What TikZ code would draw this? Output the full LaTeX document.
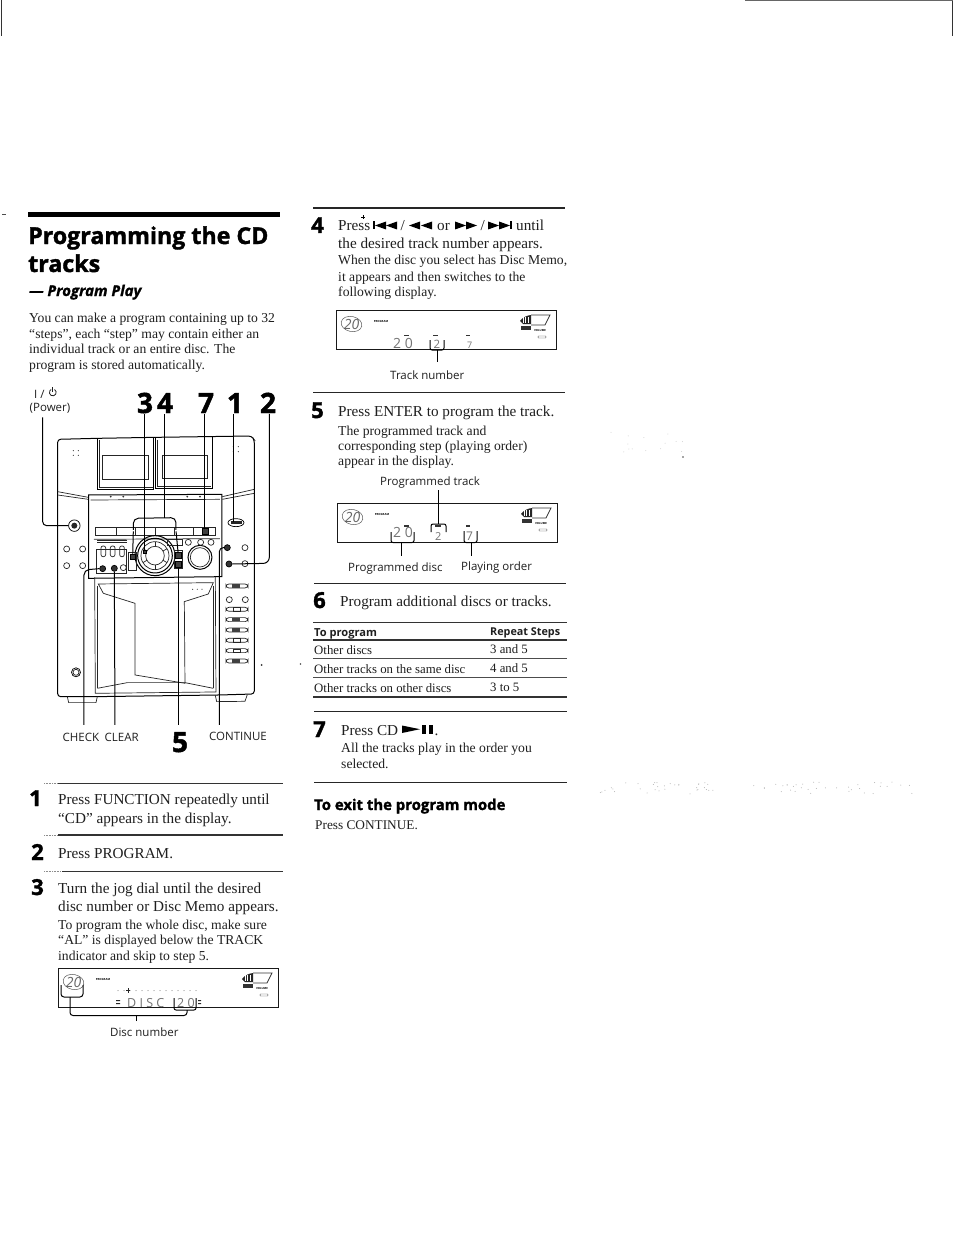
\documentclass[tikz,border=0pt]{standalone}
\usepackage{fontspec}
\usetikzlibrary{shapes.geometric}
\setmainfont{Liberation Serif}
\setsansfont{Open Sans}
\newfontfamily\heavyf[BoldFeatures={FakeBold=1.6},ItalicFeatures={},BoldItalicFeatures={FakeBold=1.2}]{Open Sans}
\newcommand{\fsz}[1]{\fontsize{#1}{#1}\selectfont}
\tikzset{
  txt/.style={inner sep=0pt,anchor=base west,text=black!88},
  big/.style={txt,font=\fsz{15.2}},
  small/.style={txt,font=\fsz{13.65}},
  tab/.style={txt,font=\fsz{12.8}},
  lab/.style={txt,font=\sffamily\fsz{11.5}},
  tabh/.style={txt,font=\sffamily\bfseries\fsz{11.1}},
  num/.style={txt,text=black,font=\heavyf\bfseries\fsz{22}},
  bignum/.style={txt,text=black,anchor=base,font=\heavyf\bfseries\fsz{28}},
  rulethick/.style={line width=1.8pt,black!85},
  rulethin/.style={line width=1.1pt,black!80},
  rulefade/.style={line width=.6pt,black!45,densely dotted},
  lead/.style={line width=1pt,black},
  dev/.style={line width=.7pt,black!85},
  devthick/.style={line width=1pt,black},
  lcdseg/.style={inner sep=0pt,text=black!55,font=\sffamily\fsz{14}},
  tiny/.style={inner sep=0pt,text=black,font=\sffamily\bfseries\fsz{2.8}},
  btn/.style={circle,draw=black!85,line width=.7pt,inner sep=0pt,minimum size=6pt},
  fbtn/.style={circle,draw=black,fill=black!80,line width=.7pt,inner sep=0pt,minimum size=6pt},
}
% LCD panel: name, left, top
\newcommand{\lcdpanel}[3]{%
 \begin{scope}[shift={(#2,#3)}]
  \node[draw=black!90,line width=.9pt,minimum width=220pt,minimum height=39pt,inner sep=0pt,anchor=north west] (#1box) at (0,0) {};
  \node[inner sep=0pt,text=black!60,font=\sffamily\itshape\fsz{14}] (#1logo) at (15.5,14) {20};
  \draw[black!65,line width=.5pt,rotate around={-12:(15.5,14)}] (15.5,14) ellipse (10.5pt and 7.5pt);
  \node[tiny] (#1prog) at (45,11) {PROGRAM};
  \fill[black!85] (184,11) .. controls (187,7) and (191,5.5) .. (195,5) -- (195,14) -- (187,14) -- cycle;
  \foreach \sx in {187,189.5,192}{\draw[white,line width=.5pt] (\sx,7) -- (\sx,13);}
  \draw[black!80,line width=.7pt] (195,5) -- (214,5) -- (209,15) -- (195,15);
  \fill[black!80] (185,16) rectangle (195,20);
  \node[tiny] (#1vol) at (204,20) {VOLUME};
  \draw[black!70,line width=.4pt,rounded corners=.5pt] (202,26) rectangle (210,28);
 \end{scope}}
% transport triangles: tail x, centre y, direction
\newcommand{\tri}[3]{\fill[black] (#1,#2-4) -- (#1,#2+4) -- (#1+#3*11,#2) -- cycle;}
\begin{document}
\begin{tikzpicture}[x=1pt,y=-1pt]
\useasboundingbox (0,0) rectangle (954,1233);
\fill[white] (0,0) rectangle (954,1233);
% scan edges
\coordinate (tl0) at (1,0); \coordinate (tl1) at (1,36);
\coordinate (tr0) at (952.5,0); \coordinate (tr1) at (952.5,36);
\coordinate (tt0) at (745,0.6); \coordinate (tt1) at (953,0.6);
\draw[line width=1pt,black!80] (tl0)--(tl1);
\draw[line width=1pt,black!80] (tr0)--(tr1);
\draw[line width=.8pt,black!60] (tt0)--(tt1);
% stray scan marks
\fill[black!70] (2,214) rectangle (6,215);
\fill[black!70] (300.5,664) circle (.8);
\fill[black!70] (683,457) circle (.8);
\pgfmathsetseed{11}
\foreach \i in {1,...,70}{\pgfmathsetmacro{\sx}{600+rnd*320}\pgfmathsetmacro{\sy}{782+rnd*12}\fill[black!30] (\sx,\sy) circle (.5);}
\foreach \i in {1,...,14}{\pgfmathsetmacro{\sx}{610+rnd*90}\pgfmathsetmacro{\sy}{432+rnd*24}\fill[black!18] (\sx,\sy) circle (.5);}

% heading
\fill[black] (28,212) rectangle (280,217.5);
\node[txt,text=black,font=\heavyf\bfseries\fsz{23.2}] (title1) at (28,244) {Programming the CD};
\node[txt,text=black,font=\heavyf\bfseries\fsz{23.2}] (title2) at (28,272) {tracks};
\node[txt,text=black,font=\heavyf\bfseries\itshape\fsz{15}] (title3) at (29,296) {— Program Play};
\node[small] (p1) at (29,322) {You can make a program containing up to 32};
\node[small] (p2) at (29,338) {``steps'', each ``step'' may contain either an};
\node[small] (p3) at (29,353) {individual track or an entire disc. The};
\node[small] (p4) at (29,369) {program is stored automatically.};

% device
\node[lab,anchor=base west] (pw1) at (34,398) {I /};
\draw[black!88,line width=.8pt] (54.5,389.5) arc (-60:240:3.4);
\draw[black!88,line width=.8pt] (52.8,387) -- (52.8,392);
\node[lab,anchor=base] (pw2) at (50,411) {(Power)};
\node[bignum] (n3) at (145,413) {3};
\node[bignum] (n4) at (165,413) {4};
\node[bignum] (n7) at (206,413) {7};
\node[bignum] (n1) at (235,413) {1};
\node[bignum] (n2) at (268,413) {2};
\node[bignum] (n5) at (180,752) {5};
\node[lab] (chk) at (62.5,741) {CHECK};
\node[lab] (clr) at (104.5,741) {CLEAR};
\node[lab] (cnt) at (209,740) {CONTINUE};

\begin{scope}[shift={(20,380)},x=.3333pt,y=-.3333pt]
 % body
 \draw[devthick,rounded corners=3pt] (113,950) -- (113,178) -- (232,175) -- (408,172) -- (695,168) -- (703,180) -- (703,942) -- (600,945) -- (230,950) -- cycle;
 \draw[dev] (142,950) -- (146,968) -- (228,968) -- (232,950);
 \draw[dev] (586,946) -- (590,965) -- (675,964) -- (682,944);
 % cassette doors
 \draw[devthick] (233,175) -- (233,330) -- (402,330) -- (402,172);
 \draw[dev] (248,225) rectangle (385,298);
 \draw[devthick] (408,172) -- (408,325) -- (578,325) -- (578,170);
 \draw[dev] (428,225) rectangle (562,295);
 \draw[dev] (238,180) -- (238,322) -- (398,322); \draw[dev] (413,180) -- (413,318) -- (572,318);
 % shoulders
 \draw[dev] (113,335) -- (205,352); \draw[dev] (113,345) -- (205,358);
 \draw[dev] (607,350) -- (703,328); \draw[dev] (607,358) -- (703,340);
 % centre panel
 \draw[devthick] (206,345) -- (606,343) -- (606,590) -- (206,595) -- cycle;
 \draw[dev] (212,360) -- (600,358);
 \foreach \px in {272,310,502,540}{\fill[black!80] (\px,350) circle (3);}
 \draw[dev] (225,443) rectangle (585,467);
 \foreach \px in {290,345,405,462,520}{\draw[dev] (\px,443) -- (\px,467);}
 \draw[dev] (222,478) -- (600,476);
 \draw[dev] (228,508) rectangle (320,580);
 \draw[dev] (232,488) -- (320,488); \draw[dev] (232,482) -- (320,482);
 \foreach \px in {250,278,306}{\draw[dev,rounded corners=2pt] (\px-7,498) rectangle (\px+7,530);}
 % dial
 \draw[devthick] (405,527) circle (60); \draw[devthick] (405,527) circle (52);
 \draw[dev] (405,527) circle (42); \draw[dev] (405,527) circle (28);
 \foreach \ang in {30,90,150,210,270,330}{\draw[dev] (405,527) ++(\ang:28) -- ++(\ang:14);}
 % knob
 \draw[devthick] (540,532) circle (36); \draw[dev] (540,532) circle (29);
 \draw[dev] (442,478) rectangle (486,497);
 \draw[dev] (325,518) rectangle (350,570);
 \draw[dev] (462,512) rectangle (488,566);
 % lower door
 \draw[dev] (224,592) -- (226,940) -- (588,936) -- (586,590);
 \draw[dev] (235,612) -- (580,608) -- (565,642) -- (493,665) -- (495,910) -- (345,885) -- (345,670) -- (250,640) -- cycle;
 \draw[dev] (232,925) -- (322,908) -- (495,908) -- (580,925);
 \draw[dev] (232,618) -- (232,925); \draw[dev] (580,618) -- (580,925);
 % speaker dots
 \foreach \px/\py in {160/212,175/212,160/226,175/226,640/200,655/200,640/215,655/215}{\fill[black!70] (\px,\py) circle (1.8);}
 \foreach \px in {518,532,546}{\fill[black!70] (\px,628) circle (1.8);}
 \fill[black!80] (725,855) circle (3);
 % right column slots
 \foreach \py/\dk in {618/1,688/0,719/1,750/1,781/0,812/0,843/1}{
   \draw[dev,rounded corners=3pt] (618,\py-6) rectangle (684,\py+6);
   \ifnum\dk=1 \fill[black!75] (636,\py-5) rectangle (660,\py+5);\else\draw[dev] (640,\py-5) rectangle (660,\py+5);\fi}
 % round buttons
 \foreach \bn/\px/\py in {ba/140/507,bb/188/507,bc/140/557,bd/188/557,be/505/487,bf/542/487,bg/573/487,bh/675/503,bi/675/551,bj/628/659,bk/676/659,bl/310/563}
   {\node[btn] (\bn) at (\px,\py) {};}
 \foreach \bn/\px/\py in {fa/248/566,fb/283/565,fc/622/503,fd/627/552}
   {\node[fbtn] (\bn) at (\px,\py) {};}
 \node[circle,draw=black,line width=.7pt,inner sep=0pt,minimum size=11.5pt] (pwr) at (163,437) {};
 \fill[black!85] (pwr) circle (9);
 \node[circle,draw=black,line width=.7pt,inner sep=0pt,minimum size=9pt] (jack) at (168,877) {};
 \draw[dev] (jack) circle (9);
 \node[ellipse,draw=black,line width=.7pt,inner sep=0pt,minimum width=16pt,minimum height=8pt] (fn) at (648,428) {};
 \fill[black!85] (632,424) rectangle (665,433);
 % small square buttons
 \node[draw=black,fill=black!75,inner sep=0pt,minimum size=5.5pt] (sq3) at (338,530) {};
 \node[draw=black,fill=black!75,inner sep=0pt,minimum size=5.5pt] (sq5a) at (475,525) {};
 \node[draw=black,fill=black!75,inner sep=0pt,minimum size=5.5pt] (sq5b) at (475,552) {};
 \node[draw=black,fill=black!75,inner sep=0pt,minimum size=5.5pt] (sq7) at (555,453) {};
 \node[draw=black,fill=black!75,inner sep=0pt,minimum size=3pt] (dial3) at (375,515) {};
 \node[draw=none,inner sep=0pt,minimum size=1pt] (l4a) at (340,452) {};
 \node[draw=none,inner sep=0pt,minimum size=1pt] (l4b) at (468,452) {};
 % leaders
 \coordinate (pwt) at (68,112); \coordinate (pwc) at (68,437);
 \draw[lead,rounded corners=4pt] (pwt) -- (pwc) -- (pwr.west);
 \coordinate (t3) at (375,102); \draw[lead] (t3) -- (dial3);
 \coordinate (t4) at (435,102); \coordinate (br4) at (435,413);
 \draw[lead] (t4) -- (br4);
 \draw[lead,rounded corners=5pt] (l4a) -- (340,415) -- (468,413) -- (l4b);
 \draw[lead] (l4a) -- (sq3);
 \draw[lead] (l4b) -- (sq5a);
 \coordinate (t7) at (555,102); \draw[lead] (t7) -- (sq7);
 \coordinate (t1) at (642,102); \draw[lead] (t1) -- (642,425);
 \coordinate (t2) at (748,102); \draw[lead,rounded corners=6pt] (t2) -- (748,550) -- (fd.east);
 \coordinate (bc1) at (598,1035); \draw[lead,rounded corners=4pt] (bc1) -- (598,503) -- (fc.west);
 \coordinate (bc2) at (192,1035); \draw[lead,rounded corners=5pt] (bc2) -- (192,570) -- (fa.west);
 \coordinate (bc3) at (285,1035); \draw[lead] (bc3) -- (fb);
 \coordinate (bc4) at (475,1035); \draw[lead] (bc4) -- (sq5b);
\end{scope}

% step 1-3
\coordinate (r1f) at (44,783.5); \coordinate (r1a) at (58,783.5); \coordinate (r1b) at (283,783.5);
\draw[rulefade] (r1f) -- (r1a); \draw[rulethin] (r1a) -- (r1b);
\node[num] (s1) at (29,806) {1};
\node[big] (s1a) at (58,804) {Press FUNCTION repeatedly until};
\node[big] (s1b) at (58,823) {``CD'' appears in the display.};
\coordinate (r2f) at (44,835); \coordinate (r2a) at (58,835); \coordinate (r2b) at (283,835);
\draw[rulefade] (r2f) -- (r2a); \draw[rulethin] (r2a) -- (r2b);
\node[num] (s2) at (31,860) {2};
\node[big] (s2a) at (58,858) {Press PROGRAM.};
\coordinate (r3f) at (44,871.5); \coordinate (r3a) at (62,871.5); \coordinate (r3b) at (283,871.5);
\draw[rulefade] (r3f) -- (r3a); \draw[rulethin] (r3a) -- (r3b);
\node[num] (s3) at (31,895) {3};
\node[big] (s3a) at (58,893) {Turn the jog dial until the desired};
\node[big] (s3b) at (58,911) {disc number or Disc Memo appears.};
\node[small] (s3c) at (58,929) {To program the whole disc, make sure};
\node[small] (s3d) at (58,944) {``AL'' is displayed below the TRACK};
\node[small] (s3e) at (58,960) {indicator and skip to step 5.};
% panel C
\lcdpanel{c}{58}{968}
\foreach \dx in {118,124,...,198}{\fill[black!60] (\dx,990.5) circle (.5);}
\node[lcdseg,font=\sffamily\fsz{12.5},anchor=base west] (cdisc) at (127,1007) {D I S C};
\node[lcdseg,font=\sffamily\fsz{12.5},anchor=base west] (c20) at (177,1007) {2 0};
\fill[black!85] (116,1000) rectangle (120,1001) (116,1003) rectangle (120,1004);
\fill[black!85] (198,1000) rectangle (201,1001) (198,1003) rectangle (201,1004);
\draw[black!85,line width=.7pt] (128,988) -- (128,993) (126,990) -- (130,990);
\coordinate (cb1l) at (61,985); \coordinate (cb1r) at (83,985);
\draw[lead,rounded corners=3pt] (cb1l) -- (61,997) -- (83,997) -- (cb1r);
\coordinate (cb2l) at (174,998); \coordinate (cb2r) at (196,998);
\draw[lead,rounded corners=2pt] (cb2l) -- (174,1010) -- (196,1010) -- (cb2r);
\coordinate (cstemR) at (187,1010);
\coordinate (cstemL) at (70,997);
\draw[lead,rounded corners=3pt] (cstemL) -- (70,1015.5) -- (187,1015.5) -- (cstemR);
\node[lab] (cdn) at (110,1036) {Disc number};
\draw[lead] (136,1021) -- (136,1015.5);

% step 4
\coordinate (r4a) at (313,208); \coordinate (r4b) at (565,208);
\draw[rulethick] (r4a) -- (r4b);
\node[num] (s4) at (311,233) {4};
\node[big] (s4a) at (338,231) {Press};
\draw[black,line width=.8pt] (363,215.5) -- (363,219) (361,217) -- (365,217);
\fill[black] (373,221.5) rectangle (375,229.5);
\tri{386}{225.5}{-1}\tri{397}{225.5}{-1}
\node[big] (s4s1) at (400.5,231) {/};
\tri{420}{225.5}{-1}\tri{432}{225.5}{-1}
\node[big] (s4or) at (437,231) {or};
\tri{455}{225.5}{1}\tri{466}{225.5}{1}
\node[big] (s4s2) at (480.5,231) {/};
\tri{488}{225.5}{1}\tri{499}{225.5}{1}
\fill[black] (510,221.5) rectangle (512,229.5);
\node[big] (s4b) at (516,231) {until};
\node[big] (s4c) at (338,248) {the desired track number appears.};
\node[small] (s4d) at (338,265) {When the disc you select has Disc Memo,};
\node[small] (s4e) at (338,281) {it appears and then switches to the};
\node[small] (s4f) at (338,296) {following display.};
\lcdpanel{a}{336}{310}
\node[lcdseg,anchor=base west] (a20) at (393,348) {2 0};
\node[lcdseg,anchor=base west,font=\sffamily\fsz{11.5}] (a2) at (433.5,348) {2};
\node[lcdseg,anchor=base west,font=\sffamily\fsz{9}] (a7) at (467,348) {7};
\foreach \dx/\dw in {404/5,433/5,466/4}{\fill[black!80] (\dx,334.5) rectangle (\dx+\dw,336);}
\coordinate (ab1) at (430,340); \coordinate (ab2) at (444,340);
\draw[lead,rounded corners=2pt] (ab1) -- (430,350) -- (444,350) -- (ab2);
\node[lab] (atn) at (390,379) {Track number};
\draw[lead] (437,350) -- (437,362);

% step 5
\coordinate (r5a) at (313,392.5); \coordinate (r5b) at (565,392.5);
\draw[rulethick] (r5a) -- (r5b);
\node[num] (s5) at (311,418) {5};
\node[big] (s5a) at (338,416) {Press ENTER to program the track.};
\node[small] (s5b) at (338,435) {The programmed track and};
\node[small] (s5c) at (338,450) {corresponding step (playing order)};
\node[small] (s5d) at (338,465) {appear in the display.};
\node[lab] (bpt) at (380,485) {Programmed track};
\lcdpanel{b}{337}{503}
\node[lcdseg,anchor=base west] (b20) at (393,537) {2 0};
\node[lcdseg,anchor=base west,font=\sffamily\fsz{11}] (b2) at (435,540) {2};
\node[lcdseg,anchor=base west,font=\sffamily\fsz{12}] (b7) at (466,540) {7};
\foreach \dx/\dw in {404/5,435/6,466/4}{\fill[black!80] (\dx,525) rectangle (\dx+\dw,526.5);}
\coordinate (bu1) at (391,532); \coordinate (bu2) at (414,532);
\draw[lead,rounded corners=2pt] (bu1) -- (391,542.5) -- (414,542.5) -- (bu2);
\coordinate (bv1) at (431,532); \coordinate (bv2) at (446,532);
\draw[lead,rounded corners=2pt] (bv1) -- (431,524) -- (446,524) -- (bv2);
\coordinate (bw1) at (464,531); \coordinate (bw2) at (477,531);
\draw[lead,rounded corners=2pt] (bw1) -- (464,542.5) -- (477,542.5) -- (bw2);
\draw[lead] (438.5,490) -- (438.5,524);
\draw[lead] (401,542.5) -- (401,556);
\draw[lead] (471,542.5) -- (471,556);
\node[lab] (bpd) at (348,571) {Programmed disc};
\node[lab] (bpo) at (461,570) {Playing order};

% step 6
\coordinate (r6a) at (314,583.5); \coordinate (r6b) at (566,583.5);
\draw[rulethick] (r6a) -- (r6b);
\node[num] (s6) at (313,608) {6};
\node[big] (s6a) at (340,606) {Program additional discs or tracks.};
\coordinate (t0a) at (313,622.5); \coordinate (t0b) at (567,622.5);
\coordinate (t1a) at (313,640); \coordinate (t1b) at (567,640);
\coordinate (t2a) at (313,658.5); \coordinate (t2b) at (567,658.5);
\coordinate (t3a) at (313,677.5); \coordinate (t3b) at (567,677.5);
\coordinate (t4a) at (313,697); \coordinate (t4b) at (567,697);
\draw[rulethin] (t0a)--(t0b);
\draw[rulethin] (t1a)--(t1b);
\draw[line width=.8pt,black!70] (t2a)--(t2b);
\draw[line width=.8pt,black!70] (t3a)--(t3b);
\draw[rulethin] (t4a)--(t4b);
\node[tabh] (th1) at (314,636) {To program};
\node[tabh,font=\sffamily\bfseries\fsz{10.8}] (th2) at (490,635) {Repeat Steps};
\node[tab] (c11) at (314,654) {Other discs};
\node[tab] (c12) at (490,653) {3 and 5};
\node[tab] (c21) at (314,673) {Other tracks on the same disc};
\node[tab] (c22) at (490,672) {4 and 5};
\node[tab] (c31) at (314,692) {Other tracks on other discs};
\node[tab] (c32) at (490,691) {3 to 5};

% step 7
\coordinate (r7a) at (314,711.5); \coordinate (r7b) at (567,711.5);
\draw[rulethick] (r7a) -- (r7b);
\node[num] (s7) at (313,737) {7};
\node[big] (s7a) at (341,735) {Press CD};
\fill[black] (402,725.5) -- (402,733) -- (420,729.2) -- cycle;
\fill[black] (422,724.5) rectangle (426,734);
\fill[black] (429,724.5) rectangle (433,734);
\node[big] (s7p) at (434.5,735) {.};
\node[small] (s7b) at (341,752) {All the tracks play in the order you};
\node[small] (s7c) at (341,768) {selected.};

% exit
\coordinate (r8a) at (314,782.5); \coordinate (r8b) at (567,782.5);
\draw[rulethick] (r8a) -- (r8b);
\node[txt,text=black,font=\heavyf\bfseries\fsz{14.9}] (ex1) at (314,810) {To exit the program mode};
\node[tab,font=\fsz{13.3}] (ex2) at (315,829) {Press CONTINUE.};
\end{tikzpicture}
\end{document}
